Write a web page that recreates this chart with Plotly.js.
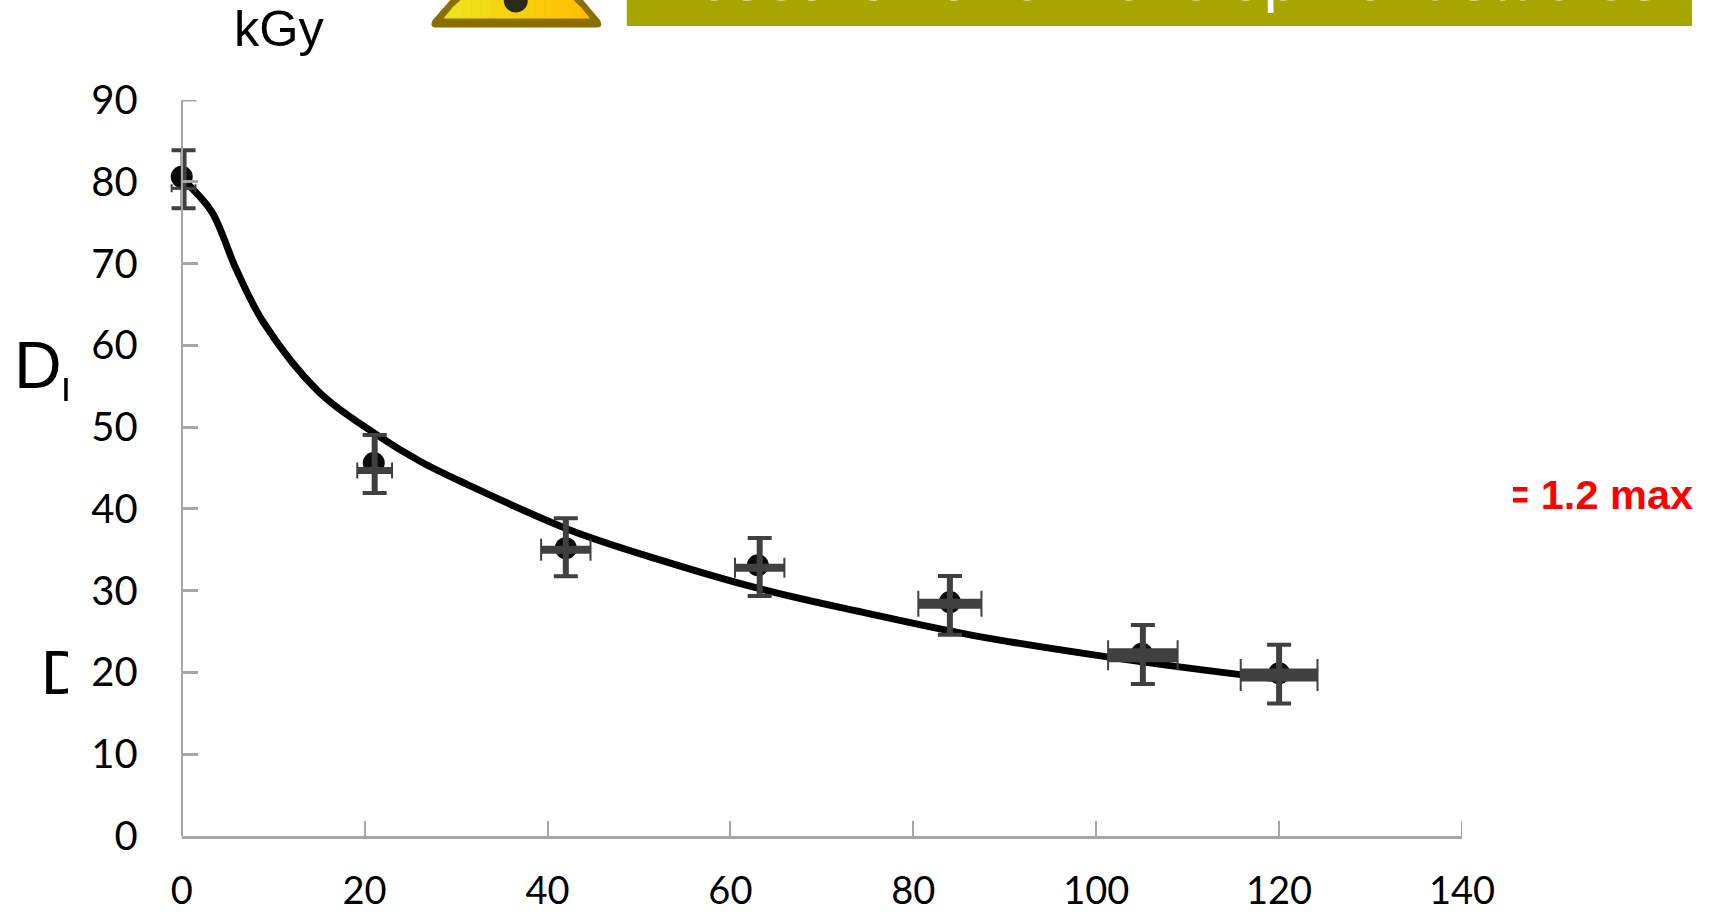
<!DOCTYPE html>
<html>
<head>
<meta charset="utf-8">
<script src="https://cdn.plot.ly/plotly-3.0.1.min.js"></script>
<style>
html,body{margin:0;padding:0;background:#fff;overflow:hidden;width:1717px;height:913px}
#chart{position:absolute;left:0;top:0;width:1717px;height:913px}
.cover{position:absolute;background:#fff}
</style>
</head>
<body>
<div id="chart"></div>
<div class="cover" style="left:68px;top:640px;width:21px;height:60px"></div>
<div class="cover" style="left:1490px;top:470px;width:23px;height:40px"></div>
<script>
// Measured points (dose, kGy / value)
const pointX = [0, 21, 42, 63, 84, 105, 120];
const pointY = [80.6, 45.6, 35.2, 33.1, 28.6, 22.3, 19.9];
// Error-bar centres, slightly offset from the points in the source picture
const errCenterX = [0.2, 21.1, 42, 63.2, 84, 105.1, 120];
const errYOfVertical = [80.3, 45.5, 35.3, 32.9, 28.2, 22.2, 19.8];
const errYOfHorizontal = [79.2, 44.7, 35.0, 32.8, 28.4, 22.1, 19.7];
const errV = [3.55, 3.55, 3.55, 3.55, 3.6, 3.6, 3.6];
const errH = [1.3, 1.9, 2.7, 2.7, 3.45, 3.8, 4.2];
const errHThickness = [3, 7, 8, 8, 10, 14, 13];
const errHCapHalf = [4, 8, 11, 10, 13, 15, 16];
// Fitted curve
const curveX = [0, 0.6, 3.3, 6, 9, 15, 21, 26.1, 31.2, 42.5, 52.2, 63, 74.3, 86.2, 101.2, 116, 120];
const curveY = [80.5, 79.8, 76.3, 69.2, 62.7, 54.3, 49.3, 45.8, 43.0, 37.4, 33.8, 30.3, 27.4, 24.6, 21.9, 19.7, 19.2];
// Axis ticks
const xTicks = [0, 20, 40, 60, 80, 100, 120, 140];
const yTicks = [0, 10, 20, 30, 40, 50, 60, 70, 80, 90];

const W = 1717, H = 913, L = 182, R = 1462, T = 100, B = 836;
const unitPx = (R - L) / 140;
const xLead = 5;                 // spare room left of x = 0 so marks on the axis are not clipped
const PL = L - xLead * unitPx;   // left edge of the real plot area
const fx = p => (p - PL) / (R - PL);
const fy = p => (B - p) / (B - T);
const ERR = '#404040';
const AXIS = '#A6A6A6';
const hidden = {size: 0, opacity: 0};

const traces = [
  {x: curveX, y: curveY, mode: 'lines', line: {color: '#000', width: 7, shape: 'spline', smoothing: 1}, hoverinfo: 'skip'},
  {x: pointX, y: pointY, mode: 'markers', marker: {color: '#0a0a0a', size: 22}},
  {x: errCenterX, y: errYOfVertical, mode: 'markers', marker: hidden,
   error_y: {type: 'data', array: errV, color: ERR, thickness: 6, width: 0}},
  {x: errCenterX, y: errYOfVertical, mode: 'markers', marker: hidden,
   error_y: {type: 'data', array: errV, color: ERR, thickness: 4, width: 12}}
];
pointX.forEach((_, i) => {
  traces.push({x: [errCenterX[i]], y: [errYOfHorizontal[i]], mode: 'markers', marker: hidden,
    error_x: {type: 'data', array: [errH[i]], color: ERR, thickness: errHThickness[i], width: 0}});
  traces.push({x: [errCenterX[i]], y: [errYOfHorizontal[i]], mode: 'markers', marker: hidden,
    error_x: {type: 'data', array: [errH[i]], color: ERR, thickness: 2, width: errHCapHalf[i]}});
});

const paper = {xref: 'paper', yref: 'paper'};
const xMax = xTicks[xTicks.length - 1], yMax = yTicks[yTicks.length - 1];
const shapes = [
  // banner
  {...paper, type: 'rect', x0: fx(627), x1: fx(1692), y0: fy(26), y1: fy(-5), fillcolor: '#A8A400', line: {width: 0}, layer: 'below'},
  // warning sign border
  {...paper, type: 'path', path: `M ${fx(455)} ${fy(-5)} L ${fx(433)} ${fy(20)} Q ${fx(429)} ${fy(27.5)} ${fx(437)} ${fy(27.5)} L ${fx(597)} ${fy(27.5)} Q ${fx(604)} ${fy(27.5)} ${fx(600)} ${fy(20)} L ${fx(579)} ${fy(-5)} Z`,
   fillcolor: '#8A6F00', line: {width: 0}, layer: 'below'},
  // subscript stem beside the clipped label
  {...paper, type: 'rect', x0: fx(64.5), x1: fx(68), y0: fy(401), y1: fy(378), fillcolor: '#000', line: {width: 0}},
  // x axis line, starting at x = 0 rather than at the spare room
  {xref: 'x', yref: 'paper', type: 'line', x0: 0, x1: xMax, y0: -1.5 / (B - T), y1: -1.5 / (B - T), line: {color: AXIS, width: 3}, layer: 'below'},
  // end ticks that Plotly drops for inside ticks at the range limits
  {xref: 'x', yref: 'paper', type: 'line', x0: xMax, x1: xMax, y0: 0, y1: 15 / (B - T), line: {color: AXIS, width: 2}, layer: 'below'},
  {xref: 'x', yref: 'y', type: 'line', x0: 0, x1: 15 / unitPx, y0: yMax, y1: yMax, line: {color: AXIS, width: 3}, layer: 'below'}
];
// warning sign inner gradient, in strips
const stops = 16, x0 = 444, x1 = 590;
for (let i = 0; i < stops; i++) {
  const a = x0 + (x1 - x0) * i / stops, b = x0 + (x1 - x0) * (i + 1) / stops + 0.6;
  const t = i / (stops - 1);
  const col = `rgb(${Math.round(238 + 17 * t)},${Math.round(228 - 38 * t)},${Math.round(30 - 30 * t)})`;
  const top = p => p < 517 ? Math.max(-2, 18 - (p - 444) * 1.2) : Math.max(-2, 18 - (590 - p) * 1.2);
  shapes.push({...paper, type: 'path', layer: 'below',
    path: `M ${fx(a)} ${fy(top(a))} L ${fx(b)} ${fy(top(b))} L ${fx(b)} ${fy(18.5)} L ${fx(a)} ${fy(18.5)} Z`,
    fillcolor: col, line: {width: 0}});
}
shapes.push({...paper, type: 'circle', layer: 'below', x0: fx(504), x1: fx(528), y0: fy(12.5), y1: fy(-11), fillcolor: '#2B2A18', line: {width: 0}});

const sans = 'Liberation Sans, Arial, sans-serif';
const ann = (text, x, y, size, color, extra) => Object.assign({
  ...paper, text, x: fx(x), y: fy(y), xanchor: 'left', yanchor: 'bottom', showarrow: false,
  font: {family: sans, size, color}, borderpad: 0, borderwidth: 0
}, extra || {});

const layout = {
  width: W, height: H, autosize: false, showlegend: false,
  paper_bgcolor: '#fff', plot_bgcolor: '#fff',
  margin: {l: PL, r: W - R, t: T, b: H - B, pad: 0},
  xaxis: {
    range: [-xLead, xMax], tickmode: 'array', tickvals: xTicks, ticktext: xTicks.map(String),
    ticks: 'inside', ticklen: 15, tickwidth: 2, tickcolor: AXIS,
    showline: false, showgrid: false, zeroline: false,
    tickfont: {family: 'Lato, sans-serif', size: 38, color: '#000'}, ticklabelstandoff: 29
  },
  yaxis: {
    range: [0, yMax], tickmode: 'array', tickvals: yTicks, ticktext: yTicks.map(String),
    anchor: 'free', position: fx(L),
    ticks: 'inside', ticklen: 15, tickwidth: 3, tickcolor: AXIS,
    showline: true, linecolor: AXIS, linewidth: 2.5, showgrid: false, zeroline: false,
    tickfont: {family: 'Lato, sans-serif', size: 40, color: '#000'}, ticklabelstandoff: 35
  },
  shapes,
  annotations: [
    ann('kGy', 234.5, 57, 50.5, '#000'),
    ann('D', 14, 402, 66, '#000'),
    ann('D', 41.5, 707, 63, '#000'),
    ann('= 1.2 max', 1505, 518, 41.5, '#FF0000', {font: {family: sans, size: 41.5, color: '#FF0000', weight: 700}}),
    ann('Research and Development studies', 650, 14.5, 63.8, '#FFFFFF')
  ]
};
Plotly.newPlot('chart', traces, layout, {displayModeBar: false, staticPlot: true});
</script>
</body>
</html>
